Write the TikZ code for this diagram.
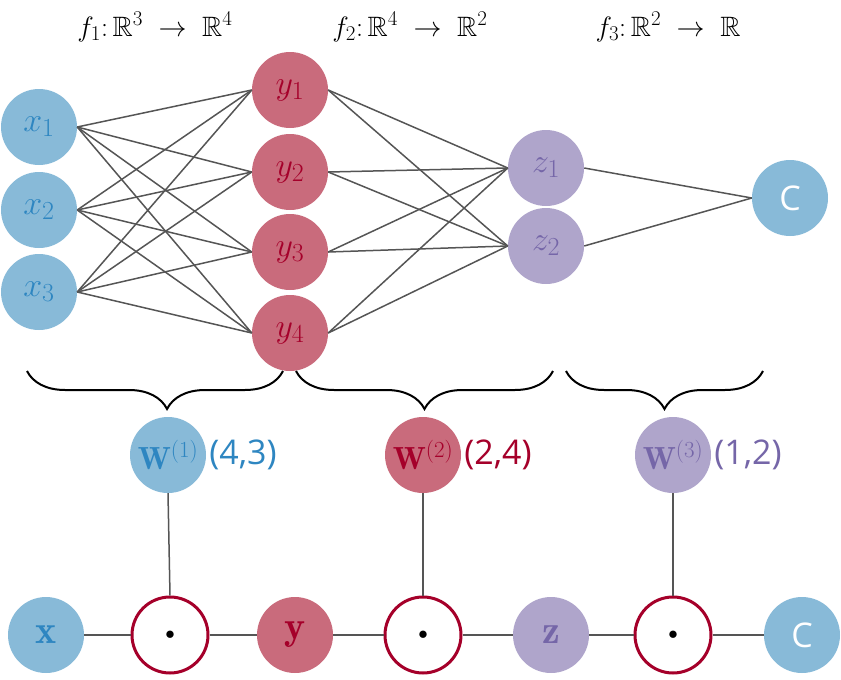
\RequirePackage{fix-cm}
\documentclass[tikz,border=0pt]{standalone}
\usepackage{amssymb}
\usepackage{fontspec}
\newfontfamily\lblsans{Open Sans}
\usetikzlibrary{decorations.pathreplacing}
% larger script sizes for the big formula labels
\DeclareMathSizes{34}{34}{26}{20}
\DeclareMathSizes{28}{28}{21}{16}
\DeclareMathSizes{32}{32}{23}{17}
\DeclareMathSizes{40}{40}{30}{22}
\definecolor{blueF}{HTML}{88BAD8}
\definecolor{blueT}{HTML}{2E86C1}
\definecolor{redF}{HTML}{C96B7C}
\definecolor{redT}{HTML}{A5002A}
\definecolor{purF}{HTML}{AFA5CB}
\definecolor{purT}{HTML}{7566A8}
\definecolor{edgeC}{HTML}{555555}
\begin{document}
\begin{tikzpicture}[x=1pt,y=-1pt,
  unit/.style={circle,minimum size=76pt,inner sep=-20pt,font=\fontsize{34}{40}\selectfont},
  bunit/.style={unit,fill=blueF,text=blueT},
  runit/.style={unit,fill=redF,text=redT},
  punit/.style={unit,fill=purF,text=purT},
  cunit/.style={unit,fill=blueF,text=white,font=\lblsans\fontsize{34}{40}\selectfont},
  wunit/.style={font=\fontsize{32}{36}\selectfont},
  vunit/.style={font=\fontsize{40}{44}\selectfont},
  prod/.style={circle,minimum size=76pt,inner sep=0pt,draw=redT,line width=3pt,fill=white,font=\fontsize{19}{22}\selectfont},
  dimlabel/.style={anchor=west,inner sep=0pt,font=\lblsans\fontsize{34}{40}\selectfont},
  link/.style={draw=edgeC,line width=1.5pt},
  bracket/.style={draw=black,line width=2pt,decorate,decoration={brace,mirror,amplitude=38pt,#1}},
  bracket/.default={aspect=0.5},
  title/.style={font=\fontsize{28}{34}\selectfont}
]
\useasboundingbox (0,0) rectangle (841,680);

% layer titles
\node[title] (t1) at (155,27) {$f_1{:}\,\mathbb{R}^3\;\to\;\mathbb{R}^4$};
\node[title] (t2) at (410,27) {$f_2{:}\,\mathbb{R}^4\;\to\;\mathbb{R}^2$};
\node[title] (t3) at (668,27) {$f_3{:}\,\mathbb{R}^2\;\to\;\mathbb{R}$};

% network units
\node[bunit] (x1) at (39,127) {$x_1$};
\node[bunit] (x2) at (39,210) {$x_2$};
\node[bunit] (x3) at (39,292) {$x_3$};
\node[runit] (y1) at (290,90) {$y_1$};
\node[runit] (y2) at (290,172) {$y_2$};
\node[runit] (y3) at (290,252) {$y_3$};
\node[runit] (y4) at (290,333) {$y_4$};
\node[punit] (z1) at (546,168) {$z_1$};
\node[punit] (z2) at (546,246) {$z_2$};
\node[cunit] (c) at (790,198) {C};

% fully connected layers
\foreach \i in {1,2,3}
  \foreach \j in {1,2,3,4}
    \draw[link] (x\i.east) -- (y\j.west);
\foreach \j in {1,2,3,4}
  \foreach \k in {1,2}
    \draw[link] (y\j.east) -- (z\k.west);
\foreach \k in {1,2}
  \draw[link] (z\k.east) -- (c.west);

% braces under each layer
\coordinate (b1l) at (27,371);  \coordinate (b1r) at (283,371);
\coordinate (b2l) at (296,371); \coordinate (b2r) at (553,371);
\coordinate (b3l) at (566,371); \coordinate (b3r) at (763,371);
\draw[bracket={aspect=0.547}] (b1l) -- (b1r);
\draw[bracket] (b2l) -- (b2r);
\draw[bracket] (b3l) -- (b3r);

% weight matrices
\node[bunit,wunit] (w1) at (168,455) {$\mathbf{W}^{(1)}$};
\node[runit,wunit] (w2) at (423,455) {$\mathbf{W}^{(2)}$};
\node[punit,wunit] (w3) at (673,455) {$\mathbf{W}^{(3)}$};
\node[dimlabel,text=blueT] (s1) at ([xshift=3pt]w1.east) {(4,3)};
\node[dimlabel,text=redT] (s2) at ([xshift=3pt]w2.east) {(2,4)};
\node[dimlabel,text=purT] (s3) at ([xshift=3pt]w3.east) {(1,2)};

% computation chain
\node[bunit,vunit] (vx) at (46,635) {$\mathbf{x}$};
\node[prod] (d1) at (170,635) {$\bullet$};
\node[runit,vunit] (vy) at (295,635) {$\mathbf{y}$};
\node[prod] (d2) at (423,635) {$\bullet$};
\node[punit,vunit] (vz) at (551,635) {$\mathbf{z}$};
\node[prod] (d3) at (673,635) {$\bullet$};
\node[cunit] (vc) at (802,635) {C};

\draw[link] (vx.east) -- (d1.west);
\draw[link] (d1.east) -- (vy.west);
\draw[link] (vy.east) -- (d2.west);
\draw[link] (d2.east) -- (vz.west);
\draw[link] (vz.east) -- (d3.west);
\draw[link] (d3.east) -- (vc.west);
\draw[link] (w1.south) -- (d1.north);
\draw[link] (w2.south) -- (d2.north);
\draw[link] (w3.south) -- (d3.north);
\end{tikzpicture}
\end{document}
